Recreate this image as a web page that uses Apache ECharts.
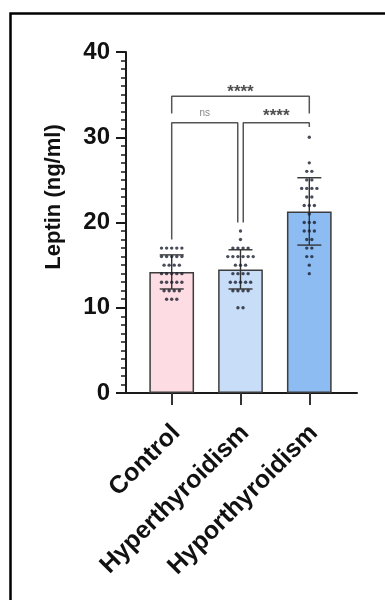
<!DOCTYPE html>
<html><head><meta charset="utf-8">
<script src="https://cdn.jsdelivr.net/npm/echarts@6/dist/echarts.min.js"></script>
<style>html,body{margin:0;padding:0;background:#fff}#c{width:385px;height:600px}</style>
</head><body><div id="c"></div>
<script>
// ---- data ----
const categories = ['Control', 'Hyperthyroidism', 'Hyporthyroidism'];
const meanValues = [14.2, 14.5, 21.3];
const sdValues = [2.0, 2.3, 3.95];
const controlValues = [17,17,17,17,17, 16,16,16,16,16, 15,15,15,15, 14,14,14,14,14, 13,13,13,13,13, 12,12,12,12, 11,11,11];
const hyperValues = [19, 18, 17,17,17,17, 16,16,16,16,16,16, 15,15,15, 14,14,14,14, 13,13,13,13,13, 12,12,12,12, 10,10];
const hypoValues = [30, 27, 26,26, 25,25, 24,24,24,24, 23,23, 22,22,22, 21, 20,20,20, 19,19,19, 18,18, 17,17, 16,16, 15, 14];
const yMin = 0, yMax = 40, yStep = 10;
const bracketLabels = ['****', 'ns', '****'];
const bracketFrom = [0, 0, 1];
const bracketTo = [2, 1, 2];
const bracketTopValues = [34.8, 31.7, 31.7];
const bracketFromEnds = [32.8, 18.0, 20.0];
const bracketToEnds = [32.8, 20.0, 31.2];
const bracketLabelValues = [35.3, 32.85, 32.4];

// ---- style ----
const FONT = '"Liberation Sans", Arial, sans-serif';
const barColors = ['#fddde3', '#c8ddf7', '#8dbcf3'];
const groups = [controlValues, hyperValues, hypoValues];
const GRID_TOP = 52, GRID_H = 341;

// bee-swarm layout (positions only)
const dotSpacing = 0.074;
const dotData = [];
groups.forEach((vals, gi) => {
  const counts = {};
  vals.forEach(v => counts[v] = (counts[v] || 0) + 1);
  const seen = {};
  vals.forEach(v => {
    const k = seen[v] = (seen[v] || 0);
    seen[v] = k + 1;
    dotData.push([gi + (k - (counts[v] - 1) / 2) * dotSpacing, v]);
  });
});

const nudge = 0.04;
const bracketSeries = bracketLabels.map((lab, i) => {
  const x1 = bracketFrom[i] + (bracketFrom[i] === 1 ? nudge : 0);
  const x2 = bracketTo[i] - (bracketTo[i] === 1 ? nudge : 0);
  return {
    type: 'line', xAxisIndex: 2, yAxisIndex: 1, symbol: 'none', silent: true,
    lineStyle: { color: '#555', width: 1.5 },
    data: [[x1, bracketFromEnds[i]], [x1, bracketTopValues[i]], [x2, bracketTopValues[i]], [x2, bracketToEnds[i]]],
    z: 4
  };
});
const labelData = bracketLabels.map((lab, i) => {
  const x1 = bracketFrom[i] + (bracketFrom[i] === 1 ? nudge : 0);
  const x2 = bracketTo[i] - (bracketTo[i] === 1 ? nudge : 0);
  const isNs = lab === 'ns';
  return {
    value: [(x1 + x2) / 2, bracketLabelValues[i]],
    label: {
      show: true, position: 'inside', formatter: lab,
      fontFamily: FONT, fontSize: isNs ? 10 : 17, fontWeight: isNs ? 'normal' : 'bold',
      color: isNs ? '#666' : '#222', align: 'center', verticalAlign: 'middle'
    }
  };
});

const chart = echarts.init(document.getElementById('c'), null, { renderer: 'canvas' });
chart.setOption({
  backgroundColor: '#fff',
  animation: false,
  grid: [
    { left: 126, top: GRID_TOP, width: 231, height: GRID_H, containLabel: false },
    { left: 137.3, top: GRID_TOP, width: 206.4, height: GRID_H, containLabel: false }
  ],
  xAxis: [
    { type: 'value', gridIndex: 0, min: 0, max: 1, axisLine: { show: true, onZero: false, lineStyle: { color: '#1a1a1a', width: 2 } },
      axisTick: { show: false }, axisLabel: { show: false }, splitLine: { show: false } },
    { type: 'category', gridIndex: 1, data: categories, axisLine: { show: false },
      axisTick: { show: true, alignWithLabel: true, length: 12, lineStyle: { color: '#333', width: 2 } },
      axisLabel: { rotate: 45, margin: 23, verticalAlign: 'top', padding: [0, 6, 0, 0], fontFamily: FONT, fontSize: 25, fontWeight: 'bold', color: '#111', interval: 0 },
      splitLine: { show: false } },
    { type: 'value', gridIndex: 1, min: -0.5, max: 2.5, show: false }
  ],
  yAxis: [
    { type: 'value', gridIndex: 0, min: yMin, max: yMax, interval: yStep,
      axisLine: { show: true, lineStyle: { color: '#1a1a1a', width: 2 } },
      axisTick: { show: true, length: 10, lineStyle: { color: '#1a1a1a', width: 2 } },
      minorTick: { show: true, splitNumber: 10, length: 5, lineStyle: { color: '#1a1a1a', width: 1.5 } },
      axisLabel: { margin: 16, fontFamily: FONT, fontSize: 24, fontWeight: 'bold', color: '#111' },
      splitLine: { show: false } },
    { type: 'value', gridIndex: 1, min: yMin, max: yMax, show: false }
  ],
  graphic: [
    { type: 'rect', shape: { x: 10.5, y: 13.5, width: 420, height: 640 }, style: { fill: null, stroke: '#000', lineWidth: 2.5 }, silent: true },
    { type: 'text', x: 54, y: 197, rotation: Math.PI / 2,
      style: { text: 'Leptin (ng/ml)', fontFamily: FONT, fontSize: 22, fontWeight: 'bold', fill: '#111', align: 'center', verticalAlign: 'middle' } }
  ],
  series: [
    { type: 'bar', xAxisIndex: 1, yAxisIndex: 1, barWidth: '65%',
      data: meanValues.map((v, i) => ({ value: v, itemStyle: { color: barColors[i] } })),
      itemStyle: { borderColor: '#3c3c3c', borderWidth: 1.5 }, z: 2 },
    { type: 'custom', xAxisIndex: 2, yAxisIndex: 1, z: 5,
      data: meanValues.map((m, i) => [i, m, sdValues[i]]),
      renderItem: (params, api) => {
        const x = api.value(0), m = api.value(1), s = api.value(2);
        const top = api.coord([x, m + s]), bot = api.coord([x, m - s]);
        const cap = 12;
        const st = { stroke: '#333', lineWidth: 1.4 };
        return { type: 'group', children: [
          { type: 'line', shape: { x1: top[0], y1: top[1], x2: bot[0], y2: bot[1] }, style: st },
          { type: 'line', shape: { x1: top[0] - cap, y1: top[1], x2: top[0] + cap, y2: top[1] }, style: st },
          { type: 'line', shape: { x1: bot[0] - cap, y1: bot[1], x2: bot[0] + cap, y2: bot[1] }, style: st }
        ] };
      } },
    { type: 'scatter', xAxisIndex: 2, yAxisIndex: 1, symbolSize: 3.4, z: 6,
      itemStyle: { color: '#1c2030' }, data: dotData },
    ...bracketSeries,
    { type: 'scatter', xAxisIndex: 2, yAxisIndex: 1, symbolSize: 0, z: 7, silent: true, data: labelData }
  ]
});
</script></body></html>
